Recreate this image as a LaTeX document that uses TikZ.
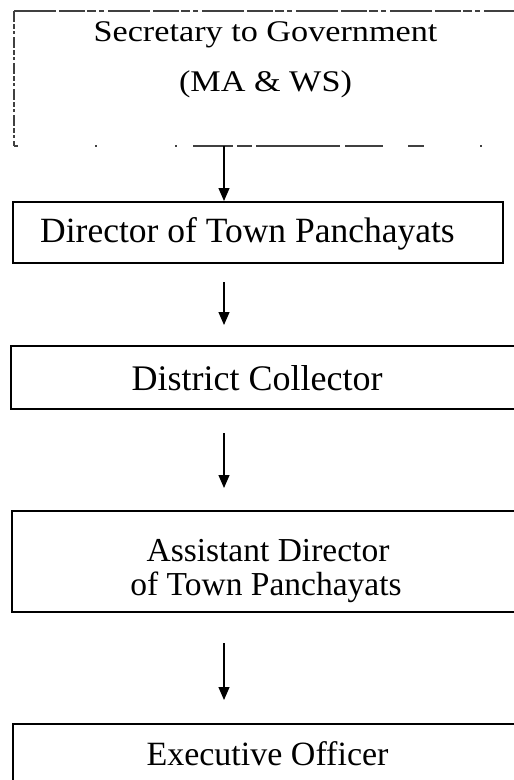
\documentclass[tikz,border=0pt]{standalone}
\usepackage{fontspec}
\setmainfont{Liberation Serif}
\newfontfamily\widerserif[FakeStretch=1.14]{Liberation Serif}
\usetikzlibrary{arrows.meta}

\tikzset{
  frame/.style={draw=black, line width=1.4pt, rectangle, anchor=north west,
    inner sep=0pt, outer sep=0pt},
  openframe/.style={frame, draw=none},
  faint/.style={draw=black!75, line width=1.1pt},
  lbl/.style={anchor=base, inner sep=0pt, text=black},
  link/.style={draw=black, line width=1.2pt,
    -{Triangle[width=11pt,length=13pt]}},
}

\begin{document}
\begin{tikzpicture}[x=1pt, y=-1pt]
  \useasboundingbox (0,0) rectangle (514,780);
  \clip (0,0) rectangle (514,780);
  \fill[white] (0,0) rectangle (514,780);

  % column of the connectors
  \coordinate (ax) at (224,0);

  % boxes (several run past the right and bottom edges)
  \node[openframe, minimum width=560pt, minimum height=135pt] (b1) at (14,11) {};
  \node[frame, minimum width=490pt, minimum height=61pt]  (b2) at (13,202) {};
  \node[frame, minimum width=560pt, minimum height=63pt]  (b3) at (11,346) {};
  \node[frame, minimum width=560pt, minimum height=101pt] (b4) at (12,511) {};
  \node[frame, minimum width=560pt, minimum height=100pt] (b5) at (13,724) {};

  % broken outline of the top box
  \draw[faint, dash pattern=on 42pt off 3pt on 26pt off 2pt on 9pt off 3pt on 5pt off 4pt]
    (b1.north west) -- (b1.north east);
  \draw[faint, dash pattern=on 11pt off 2pt on 5pt off 2pt on 3pt off 3pt]
    (b1.north west) -- (b1.south west);
  \foreach \a/\b in {0/4, 81/82.5, 161/162.5, 179/219, 223/238, 242/326, 331/369, 394/410, 466/468}
    \draw[faint] ([xshift=\a pt]b1.south west) -- ([xshift=\b pt]b1.south west);

  % labels
  \node[lbl, font=\widerserif\fontsize{30}{34}\selectfont] (t1a) at (265.5,41) {Secretary to Government};
  \node[lbl, font=\widerserif\fontsize{30}{34}\selectfont] (t1b) at (265.5,91) {(MA \& WS)};
  \node[lbl, font=\fontsize{35.5}{40}\selectfont] (t2) at (247.5,242) {Director of Town Panchayats};
  \node[lbl, font=\fontsize{36}{40}\selectfont] (t3) at (257,390) {District Collector};
  \node[lbl, font=\fontsize{33.5}{38}\selectfont] (t4a) at (268,561) {Assistant Director};
  \node[lbl, font=\fontsize{33.5}{38}\selectfont] (t4b) at (266,595) {of Town Panchayats};
  \node[lbl, font=\fontsize{34}{38}\selectfont] (t5) at (267.5,765) {Executive Officer};

  % connectors
  \draw[link, shorten >=1pt] (b1.south -| ax) -- (b2.north -| ax);
  \draw[link, shorten <=19pt, shorten >=21pt] (b2.south -| ax) -- (b3.north -| ax);
  \draw[link, shorten <=24pt, shorten >=23pt] (b3.south -| ax) -- (b4.north -| ax);
  \draw[link, shorten <=31pt, shorten >=24pt] (b4.south -| ax) -- (b5.north -| ax);
\end{tikzpicture}
\end{document}
